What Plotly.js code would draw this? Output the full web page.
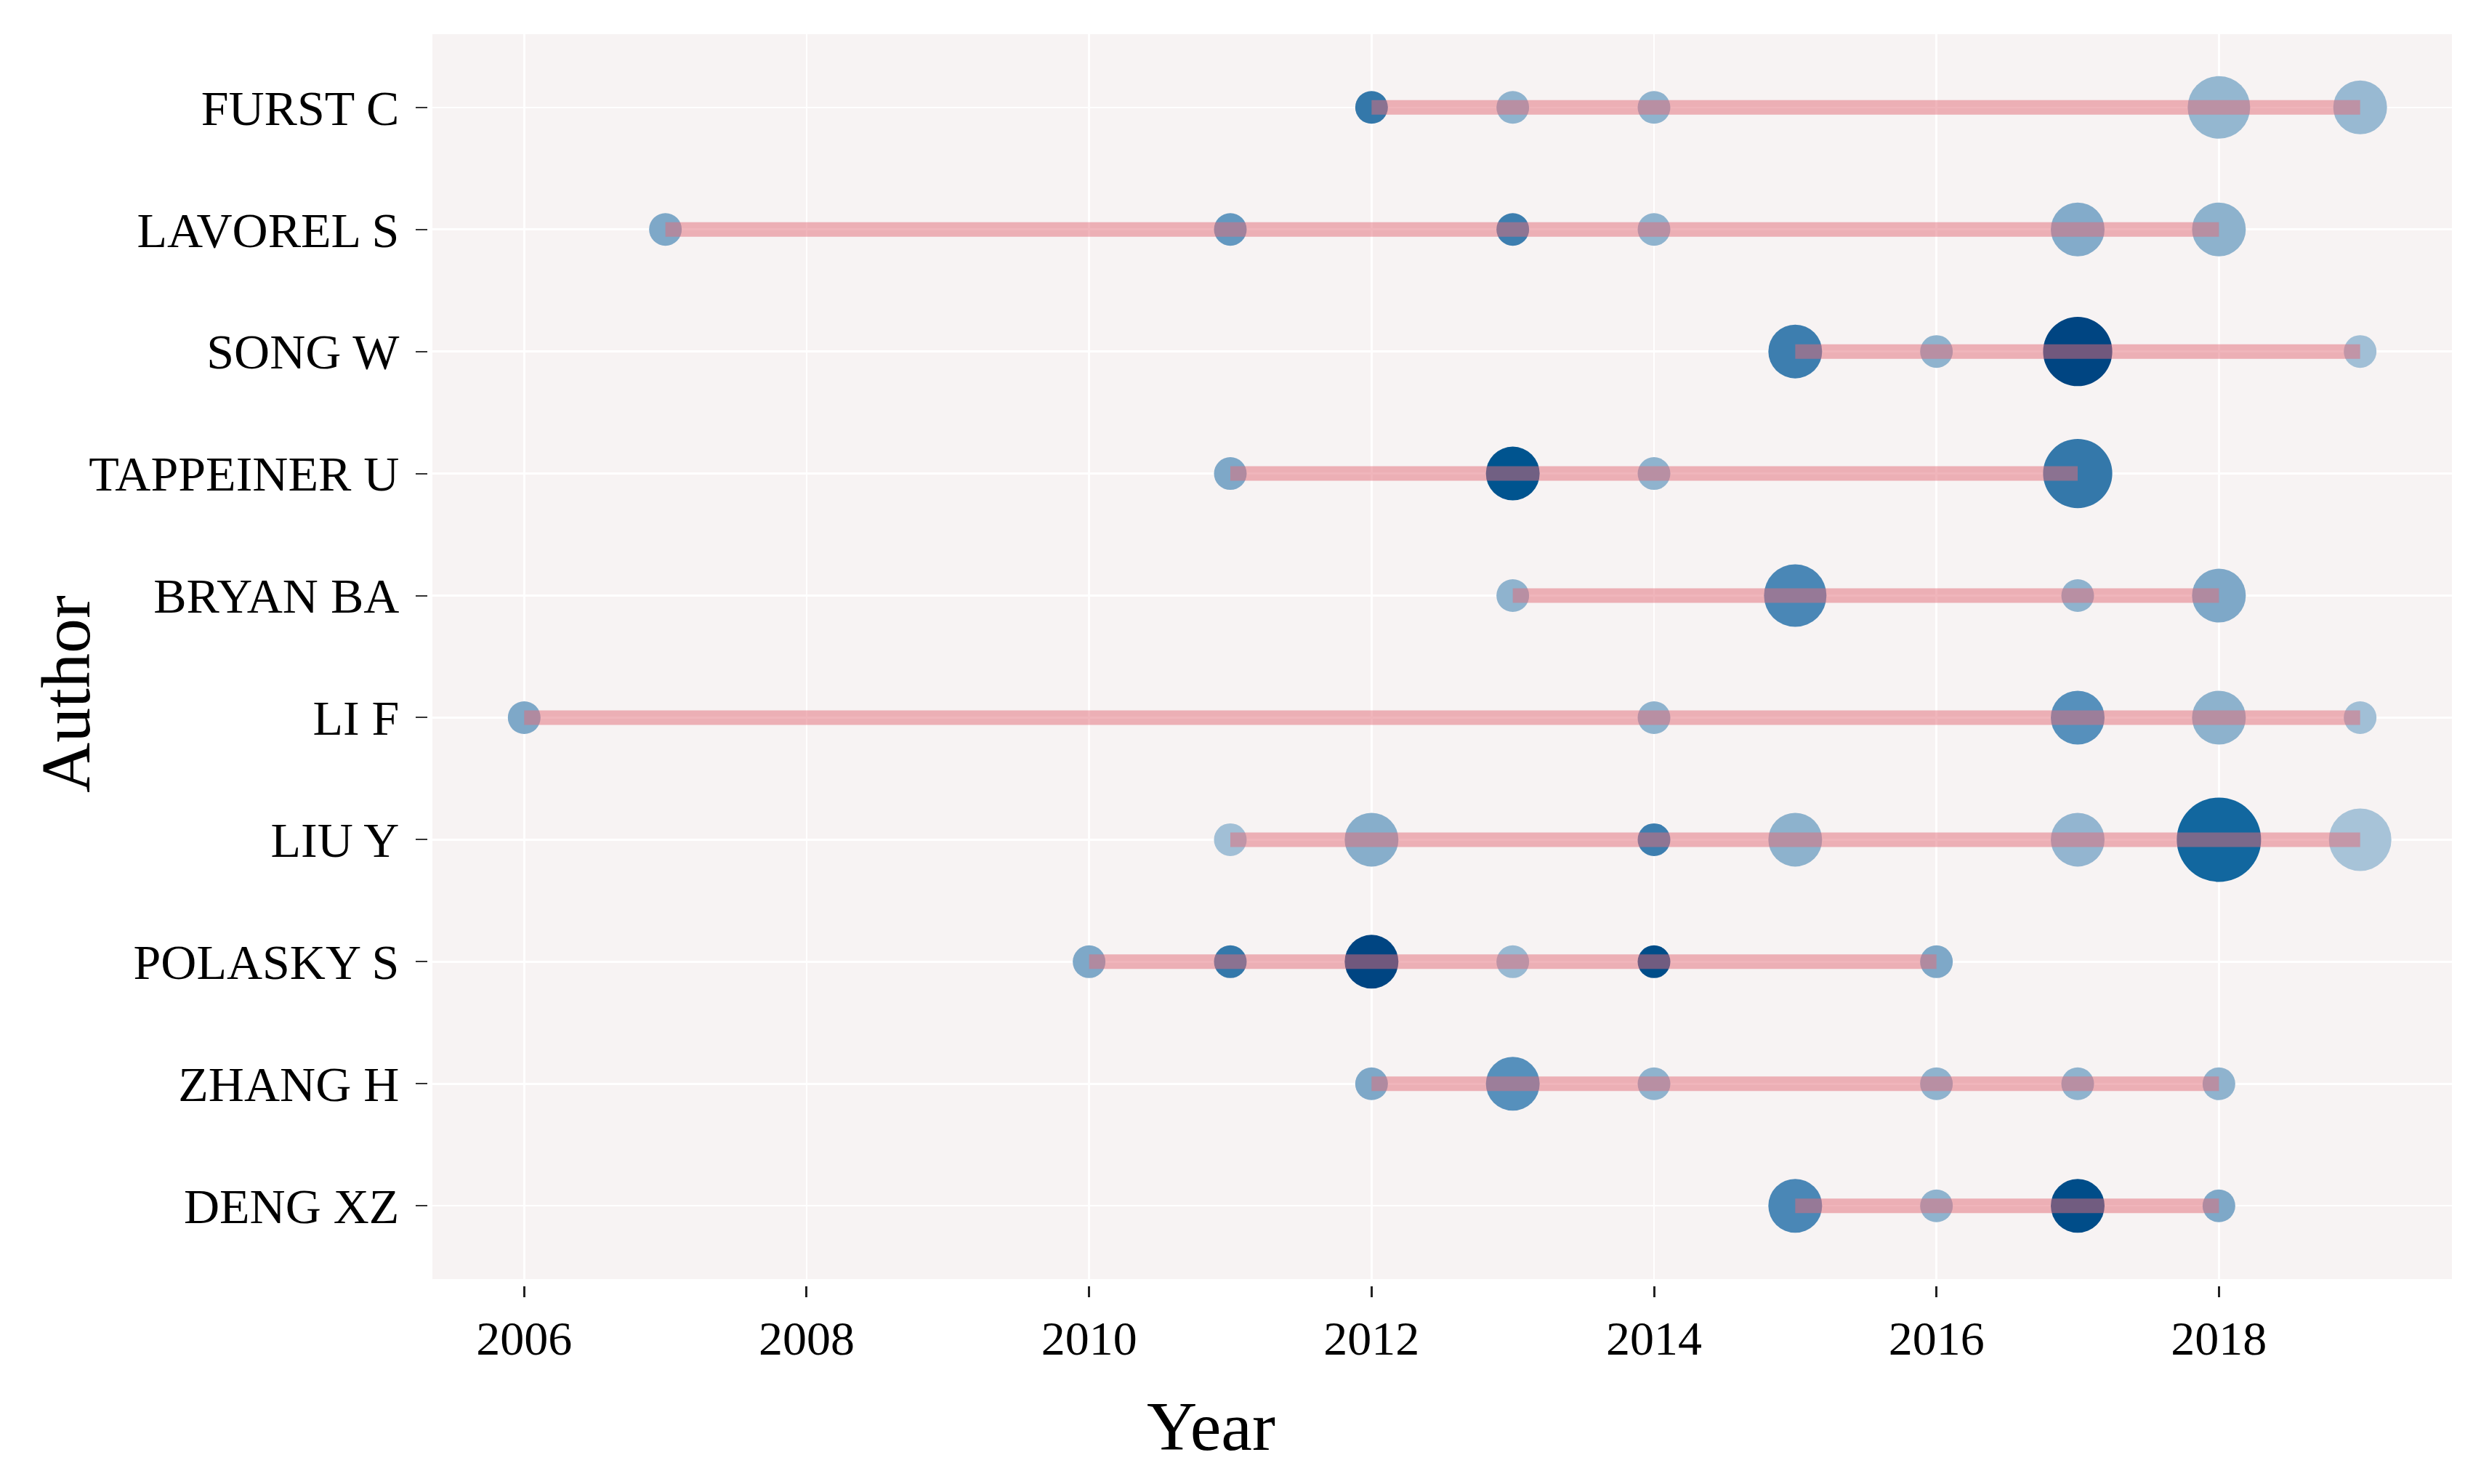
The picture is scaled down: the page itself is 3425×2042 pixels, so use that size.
<!DOCTYPE html>
<html>
<head>
<meta charset="utf-8">
<script src="https://cdn.plot.ly/plotly-3.0.1.min.js"></script>
<style>
  html, body { margin: 0; padding: 0; background: #ffffff; }
  #chart { width: 3425px; height: 2042px; }
</style>
</head>
<body>
<div id="chart"></div>
<script>
// ---- Data ----
const authors = ['FURST C', 'LAVOREL S', 'SONG W', 'TAPPEINER U', 'BRYAN BA',
                 'LI F', 'LIU Y', 'POLASKY S', 'ZHANG H', 'DENG XZ'];

// One entry per point
const pointAuthor = [
  'FURST C','FURST C','FURST C','FURST C','FURST C',
  'LAVOREL S','LAVOREL S','LAVOREL S','LAVOREL S','LAVOREL S','LAVOREL S',
  'SONG W','SONG W','SONG W','SONG W',
  'TAPPEINER U','TAPPEINER U','TAPPEINER U','TAPPEINER U',
  'BRYAN BA','BRYAN BA','BRYAN BA','BRYAN BA',
  'LI F','LI F','LI F','LI F','LI F',
  'LIU Y','LIU Y','LIU Y','LIU Y','LIU Y','LIU Y','LIU Y',
  'POLASKY S','POLASKY S','POLASKY S','POLASKY S','POLASKY S','POLASKY S',
  'ZHANG H','ZHANG H','ZHANG H','ZHANG H','ZHANG H','ZHANG H',
  'DENG XZ','DENG XZ','DENG XZ','DENG XZ'
];
const pointYear = [
  2012, 2013, 2014, 2018, 2019,
  2007, 2011, 2013, 2014, 2017, 2018,
  2015, 2016, 2017, 2019,
  2011, 2013, 2014, 2017,
  2013, 2015, 2017, 2018,
  2006, 2014, 2017, 2018, 2019,
  2011, 2012, 2014, 2015, 2017, 2018, 2019,
  2010, 2011, 2012, 2013, 2014, 2016,
  2012, 2013, 2014, 2016, 2017, 2018,
  2015, 2016, 2017, 2018
];
// number of articles (marker size)
const pointArticles = [
  1, 1, 1, 3, 2,
  1, 1, 1, 1, 2, 2,
  2, 1, 4, 1,
  1, 2, 1, 4,
  1, 3, 1, 2,
  1, 1, 2, 2, 1,
  1, 2, 1, 2, 2, 7, 3,
  1, 1, 2, 1, 1, 1,
  1, 2, 1, 1, 1, 1,
  2, 1, 2, 1
];
// citation intensity (marker colour, estimated)
const pointCitations = [
  6.5, 2.5, 2.5, 2.2, 2.0,
  3.5, 4.5, 6.0, 2.5, 3.2, 2.6,
  6.0, 2.5, 10.0, 1.5,
  3.5, 9.0, 2.5, 6.5,
  2.5, 5.5, 2.5, 3.5,
  3.5, 2.5, 5.0, 2.6, 1.5,
  1.5, 3.0, 6.0, 2.6, 2.3, 8.0, 1.0,
  3.5, 6.5, 10.0, 2.0, 9.5, 3.5,
  3.5, 5.0, 2.5, 2.5, 2.5, 2.5,
  5.5, 2.5, 9.5, 3.5
];
const xTickYears = [2006, 2008, 2010, 2012, 2014, 2016, 2018];

// ---- Layout constants (pixels) ----
const W = 3425, H = 2042;
const M = { l: 588, r: 51, t: 47, b: 273 };
const plotW = W - M.l - M.r, plotH = H - M.t - M.b;
const gapX = 7, gapY = 9;
const font = 'Liberation Serif, Times New Roman, serif';

// marker diameter from article count (area-type scale)
const minD = 45, stepD = 29;
const markerSizes = pointArticles.map(n => minD + stepD * Math.sqrt(n - 1));

// segments from first to last year for each author
const segX = [], segY = [];
authors.forEach(a => {
  const ys = pointYear.filter((_, i) => pointAuthor[i] === a);
  segX.push(Math.min(...ys), Math.max(...ys), null);
  segY.push(a, a, null);
});

const blueScale = [
  [0.00, '#B3CBDD'],
  [0.15, '#A1BFD6'],
  [0.25, '#8FB3CE'],
  [0.35, '#7EA8C8'],
  [0.50, '#5690BC'],
  [0.60, '#3D7EAF'],
  [0.70, '#2A71A4'],
  [0.80, '#12679F'],
  [0.90, '#00548F'],
  [1.00, '#004582']
];

const points = {
  type: 'scatter', mode: 'markers',
  x: pointYear, y: pointAuthor,
  marker: {
    size: markerSizes,
    color: pointCitations,
    colorscale: blueScale, cmin: 0, cmax: 10,
    showscale: false,
    opacity: 1,
    line: { width: 0 }
  },
  hoverinfo: 'x+y',
  showlegend: false
};

const segments = {
  type: 'scatter', mode: 'lines',
  x: segX, y: segY,
  line: { color: 'rgba(226,108,120,0.5)', width: 20 },
  hoverinfo: 'skip',
  showlegend: false
};

const px2paperX = px => (px - M.l) / plotW;
const px2paperY = py => (H - M.b - py) / plotH;

const layout = {
  width: W, height: H,
  margin: M,
  paper_bgcolor: '#ffffff',
  plot_bgcolor: '#F7F3F3',
  showlegend: false,
  xaxis: {
    domain: [gapX / plotW, 1],
    anchor: 'free', position: 0,
    range: [2005.35, 2019.65],
    tickmode: 'array', tickvals: xTickYears, ticktext: xTickYears.map(String),
    ticks: 'outside', ticklen: 15, tickwidth: 3, tickcolor: '#222222',
    showgrid: true, gridcolor: '#ffffff', gridwidth: 2.5,
    zeroline: false, showline: false,
    tickfont: { family: font, size: 66, color: '#000000' }
  },
  yaxis: {
    domain: [gapY / plotH, 1],
    anchor: 'free', position: 0,
    type: 'category',
    categoryorder: 'array', categoryarray: authors.slice().reverse(),
    range: [-0.6, authors.length - 0.4],
    ticks: 'outside', ticklen: 16, tickwidth: 2, tickcolor: '#333333',
    ticklabelstandoff: 9,
    showgrid: true, gridcolor: '#ffffff', gridwidth: 2.5,
    zeroline: false, showline: false,
    tickfont: { family: font, size: 68, color: '#000000' }
  },
  annotations: [
    { text: 'Year', xref: 'paper', yref: 'paper',
      x: px2paperX(1666), y: px2paperY(1962), xanchor: 'center', yanchor: 'middle',
      showarrow: false, font: { family: font, size: 96, color: '#000000' } },
    { text: 'Author', xref: 'paper', yref: 'paper', textangle: -90,
      x: px2paperX(90), y: px2paperY(955), xanchor: 'center', yanchor: 'middle',
      showarrow: false, font: { family: font, size: 96, color: '#000000' } }
  ]
};

Plotly.newPlot('chart', [points, segments], layout, { displayModeBar: false, staticPlot: true });
</script>
</body>
</html>
